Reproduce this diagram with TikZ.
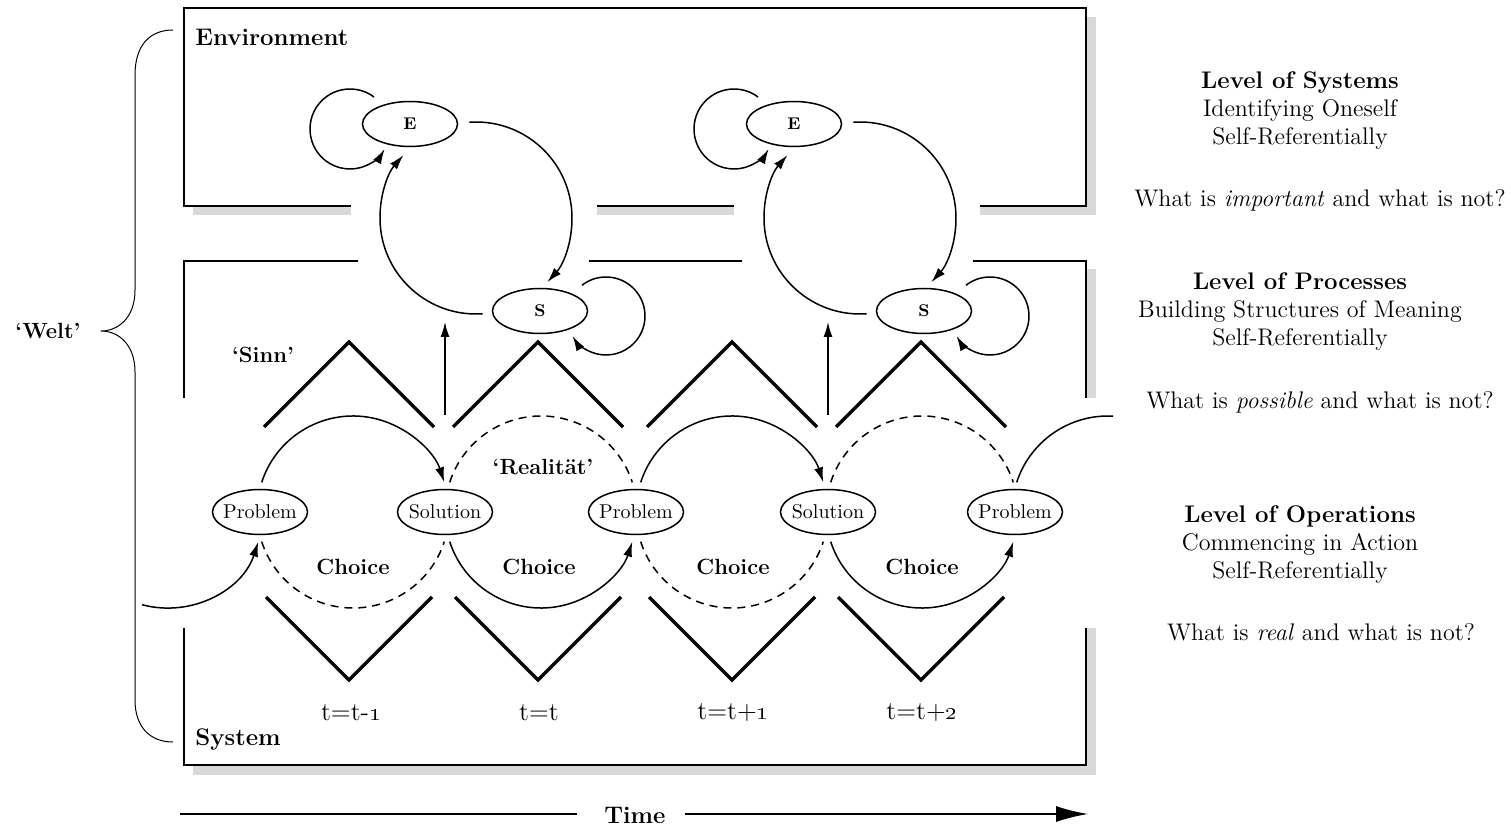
\documentclass[tikz,border=0pt]{standalone}
\usetikzlibrary{arrows.meta,shapes.geometric}
\definecolor{shadowgray}{gray}{0.85}
\begin{document}
\begin{tikzpicture}[x=0.5pt,y=0.5pt,
  frame/.style={line width=0.9pt},
  shade/.style={fill=shadowgray},
  zig/.style={line width=1.6pt,line join=miter},
  link/.style={line width=0.75pt},
  dashlink/.style={link,dash pattern=on 4pt off 3pt},
  tip/.style={-{Latex[length=7.5pt,width=4.5pt]}},
  state/.style={draw,ellipse,line width=0.75pt,minimum width=47.5pt,minimum height=22.5pt,inner sep=0pt,font=\fontsize{8.5}{10}\selectfont\bfseries},
  event/.style={draw,ellipse,line width=0.75pt,minimum width=47.5pt,minimum height=22.5pt,inner sep=0pt,font=\fontsize{10}{12}\selectfont},
  lbl/.style={font=\fontsize{11}{13}\selectfont\bfseries},
  big/.style={font=\fontsize{12}{14}\selectfont\bfseries},
  tlbl/.style={font=\fontsize{13}{15}\selectfont},
  side/.style={align=center,font=\fontsize{12}{14}\selectfont},
]
\useasboundingbox (0,0) rectangle (1511,-828);

% drop shadows of the three frames
\fill[shade] (193,-207) rectangle (351,-215);
\fill[shade] (597,-207) rectangle (734,-215);
\fill[shade] (980,-207) rectangle (1096,-215);
\fill[shade] (1087,-17) rectangle (1096,-215);
\fill[shade] (1087,-269) rectangle (1096,-398);
\fill[shade] (1087,-628) rectangle (1096,-775);
\fill[shade] (193,-766) rectangle (1096,-775);

% frames: environment, processes (open below), system (open above)
\draw[frame] (351,-206) -- (184,-206) -- (184,-8) -- (1086,-8) -- (1086,-206) -- (980,-206);
\draw[frame] (597,-206) -- (734,-206);
\draw[frame] (358,-261) -- (184,-261) -- (184,-398);
\draw[frame] (589,-261) -- (742,-261);
\draw[frame] (973,-261) -- (1086,-261) -- (1086,-398);
\draw[frame] (184,-628) -- (184,-765) -- (1086,-765) -- (1086,-628);

\node[big,anchor=west,inner sep=0pt] (envlbl) at (195,-37) {Environment};
\node[big,anchor=west,inner sep=0pt] (syslbl) at (195,-740) {System};

% zigzags above and below the operation band
\foreach \p in {349,538,732,921}{
  \draw[zig] ({\p-85},-427) -- (\p,-342) -- ({\p+85},-427);
  \draw[zig] ({\p-83},-597) -- (\p,-680) -- ({\p+83},-597);
}

% environment / system states
\node[state] (E1) at (410,-124) {E};
\node[state] (S1) at (540,-311) {S};
\node[state] (E2) at (794,-124) {E};
\node[state] (S2) at (924,-311) {S};

% problem / solution chain
\node[event] (P1) at (260,-512) {\makebox[20pt]{Problem}};
\node[event] (Q1) at (445,-512) {\makebox[20pt]{Solution}};
\node[event] (P2) at (636,-512) {\makebox[20pt]{Problem}};
\node[event] (Q2) at (828,-512) {\makebox[20pt]{Solution}};
\node[event] (P3) at (1015,-512) {\makebox[20pt]{Problem}};

% large E-S loops
\coordinate (L1) at (476,-218);
\coordinate (L2) at (860,-218);
\foreach \c in {L1,L2}{
  \draw[link,tip] ([shift={(94:96)}]\c) arc[start angle=94,end angle=-42,radius=96];
  \draw[link,tip] ([shift={(-86:96)}]\c) arc[start angle=-86,end angle=-221,radius=96];
}

% self-reference loops
\coordinate (EL1) at (350,-129);
\coordinate (EL2) at (734,-129);
\coordinate (SL1) at (606,-316);
\coordinate (SL2) at (990,-316);
\foreach \c in {EL1,EL2}{
  \draw[link,tip] ([shift={(53:40)}]\c) arc[start angle=53,end angle=330,radius=40];
}
\foreach \c in {SL1,SL2}{
  \draw[link,tip] ([shift={(128:39)}]\c) arc[start angle=128,end angle=-149,radius=39];
}

% upward arrows from the operation band
\coordinate (V1a) at (445,-415);
\coordinate (V1b) at (445,-322);
\coordinate (V2a) at (828,-415);
\coordinate (V2b) at (828,-322);
\draw[link,tip] (V1a) -- (V1b);
\draw[link,tip] (V2a) -- (V2b);

% arcs of the problem / solution chain
\coordinate (M0) at (167,-512);
\coordinate (M1) at (353,-512);
\coordinate (M2) at (541,-512);
\coordinate (M3) at (732,-512);
\coordinate (M4) at (922,-512);
\coordinate (M5) at (1108,-512);
\draw[link,tip] ([shift={(162:96)}]M1) arc[start angle=162,end angle=18,radius=96];
\draw[dashlink] ([shift={(162:96)}]M2) arc[start angle=162,end angle=18,radius=96];
\draw[link,tip] ([shift={(162:96)}]M3) arc[start angle=162,end angle=18,radius=96];
\draw[dashlink] ([shift={(162:96)}]M4) arc[start angle=162,end angle=18,radius=96];
\draw[link] ([shift={(162:96)}]M5) arc[start angle=162,end angle=87,radius=96];
\draw[link,tip] ([shift={(255:96)}]M0) arc[start angle=255,end angle=342,radius=96];
\draw[dashlink] ([shift={(198:96)}]M1) arc[start angle=198,end angle=342,radius=96];
\draw[link,tip] ([shift={(198:96)}]M2) arc[start angle=198,end angle=342,radius=96];
\draw[dashlink] ([shift={(198:96)}]M3) arc[start angle=198,end angle=342,radius=96];
\draw[link,tip] ([shift={(198:96)}]M4) arc[start angle=198,end angle=342,radius=96];

% labels inside the frames
\node[lbl] (sinn) at (263,-355) {‘Sinn’};
\node[lbl] (real) at (543,-467) {‘Realität’};
\node[lbl] (ch1) at (353,-567) {Choice};
\node[lbl] (ch2) at (539,-567) {Choice};
\node[lbl] (ch3) at (733,-567) {Choice};
\node[lbl] (ch4) at (922,-567) {Choice};
\node[tlbl] (tm1) at (351,-713) {t=t-\oldstylenums{1}};
\node[tlbl] (t0) at (539,-713) {t=t};
\node[tlbl] (tp1) at (733,-713) {t=t+\oldstylenums{1}};
\node[tlbl] (tp2) at (922,-713) {t=t+\oldstylenums{2}};

% world brace
\node[lbl] (welt) at (48,-331) {‘Welt’};
\draw[line width=0.5pt] (173,-30) .. controls (150,-30) and (135,-45) .. (135,-75) -- (135,-290)
  .. controls (135,-318) and (118,-331) .. (101,-331)
  .. controls (118,-331) and (135,-344) .. (135,-372) -- (135,-700)
  .. controls (135,-727) and (150,-742) .. (173,-742);

% time axis
\node[big] (time) at (635,-815) {Time};
\coordinate (ta) at (180,-814);
\coordinate (tb) at (577,-814);
\coordinate (tc) at (685,-814);
\coordinate (td) at (1088,-814);
\draw[link] (ta) -- (tb);
\draw[link,-{Latex[length=16pt,width=8pt]}] (tc) -- (td);

% level descriptions
\node[side] (lvsys) at (1300,-111) {\textbf{Level of Systems}\\Identifying Oneself\\Self-Referentially};
\node[side] (qsys) at (1320,-200) {What is \textit{important} and what is not?};
\node[side] (lvproc) at (1300,-312) {\textbf{Level of Processes}\\Building Structures of Meaning\\Self-Referentially};
\node[side] (qproc) at (1320,-402) {What is \textit{possible} and what is not?};
\node[side] (lvops) at (1300,-545) {\textbf{Level of Operations}\\Commencing in Action\\Self-Referentially};
\node[side] (qops) at (1321,-632) {What is \textit{real} and what is not?};
\end{tikzpicture}
\end{document}
